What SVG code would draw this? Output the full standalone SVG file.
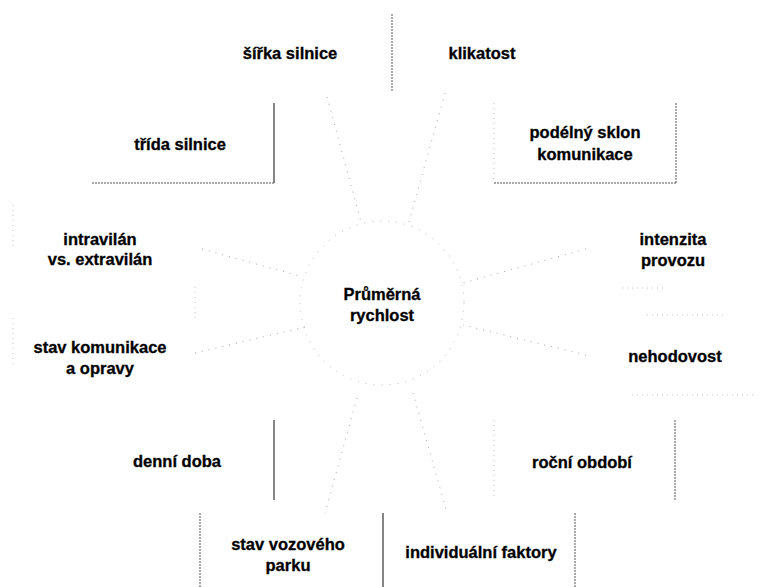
<svg xmlns="http://www.w3.org/2000/svg" width="761" height="587" viewBox="0 0 761 587">
<style>
text{font-family:"Liberation Sans",Arial,sans-serif;font-weight:bold;font-size:16.5px;fill:#000;text-anchor:middle;stroke:#000;stroke-width:0.3}
.conn{stroke:#a8a8a8;stroke-width:1;stroke-dasharray:1 6;fill:none}
.ring{stroke:#b8b8b8;stroke-width:1;stroke-dasharray:1 7;fill:none}
.edge{stroke:#555;stroke-width:1;stroke-dasharray:2 1;fill:none}
.faint{stroke:#c4c4c4;stroke-width:1;stroke-dasharray:1 4;fill:none}
.solid{stroke:#333;stroke-width:1.2;fill:none}
</style>
<rect width="761" height="587" fill="#fff"/>
<g id="connectors">
<circle class="ring" cx="382" cy="303" r="82"/>
<line class="conn" x1="327" y1="97" x2="361" y2="222"/>
<line class="conn" x1="445" y1="93" x2="409" y2="222"/>
<line class="conn" x1="202" y1="249" x2="303" y2="277"/>
<line class="conn" x1="195" y1="353" x2="305" y2="327"/>
<line class="conn" x1="586" y1="249" x2="463" y2="283"/>
<line class="conn" x1="586" y1="355" x2="463" y2="325"/>
<line class="conn" x1="357" y1="398" x2="325" y2="513"/>
<line class="conn" x1="413" y1="393" x2="447" y2="513"/>
</g>
<g id="borders">
<line class="edge" x1="392" y1="14" x2="392" y2="92"/>
<line class="solid" x1="274" y1="103" x2="274" y2="183"/>
<line class="edge" x1="92" y1="183" x2="274" y2="183"/>
<line class="faint" x1="494" y1="103" x2="494" y2="183"/>
<line class="edge" x1="494" y1="183" x2="676" y2="183"/>
<line class="edge" x1="676" y1="103" x2="676" y2="183"/>
<line class="faint" x1="13" y1="205" x2="13" y2="250"/>
<line class="faint" x1="13" y1="318" x2="13" y2="365"/>
<line class="faint" x1="195" y1="287" x2="195" y2="320"/>
<line class="faint" x1="622" y1="288" x2="667" y2="288"/>
<line class="faint" x1="647" y1="315" x2="727" y2="315"/>
<line class="faint" x1="632" y1="395" x2="755" y2="395"/>
<line class="solid" x1="274" y1="420" x2="274" y2="500"/>
<line class="faint" x1="494" y1="420" x2="494" y2="500"/>
<line class="edge" x1="675" y1="420" x2="675" y2="500"/>
<line class="edge" x1="200" y1="513" x2="200" y2="587"/>
<line class="solid" x1="383" y1="513" x2="383" y2="587"/>
<line class="edge" x1="575" y1="513" x2="575" y2="587"/>
</g>
<g id="center"><text x="382" y="300">Průměrná</text><text x="382" y="321">rychlost</text></g>
<g id="sirka"><text x="290" y="59">šířka silnice</text></g>
<g id="klikatost"><text x="482" y="59">klikatost</text></g>
<g id="trida"><text x="180" y="150">třída silnice</text></g>
<g id="sklon"><text x="585" y="138">podélný sklon</text><text x="585" y="160">komunikace</text></g>
<g id="intravilan"><text x="100" y="245">intravilán</text><text x="100" y="265">vs. extravilán</text></g>
<g id="intenzita"><text x="673" y="245">intenzita</text><text x="673" y="266">provozu</text></g>
<g id="stavkom"><text x="100" y="353">stav komunikace</text><text x="100" y="374">a opravy</text></g>
<g id="nehodovost"><text x="675" y="362">nehodovost</text></g>
<g id="denni"><text x="177" y="467">denní doba</text></g>
<g id="rocni"><text x="582" y="468">roční období</text></g>
<g id="vozovy"><text x="288" y="550">stav vozového</text><text x="288" y="571">parku</text></g>
<g id="individualni"><text x="481" y="558">individuální faktory</text></g>
</svg>
